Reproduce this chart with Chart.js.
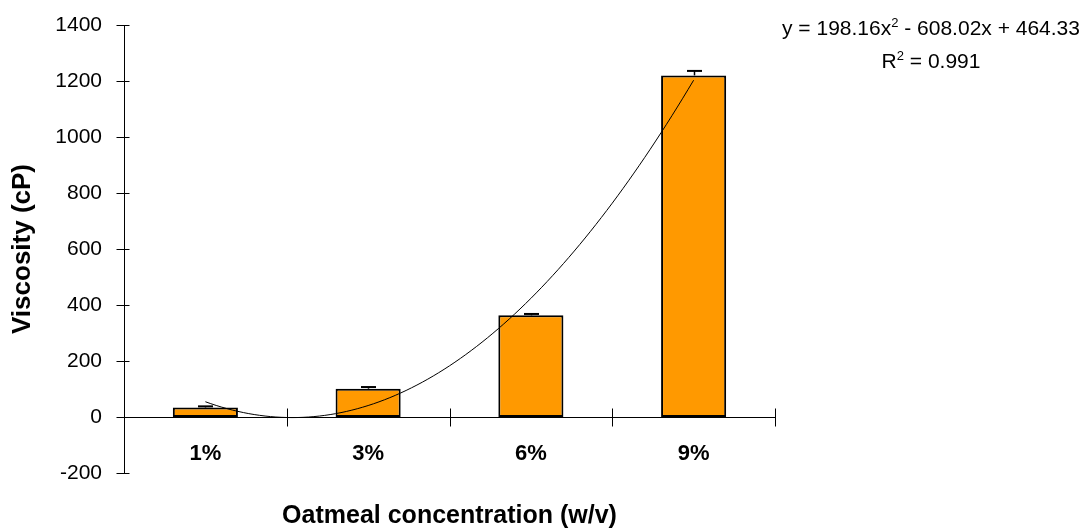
<!DOCTYPE html>
<html>
<head>
<meta charset="utf-8">
<script src="https://cdn.jsdelivr.net/npm/chart.js@4.4.1/dist/chart.umd.min.js"></script>
<style>
  html, body { margin: 0; padding: 0; background: #ffffff; }
  #wrap { width: 1084px; height: 528px; position: relative; }
</style>
</head>
<body>
<div id="wrap"><canvas id="chart" width="1084" height="528"></canvas></div>
<script>
// Viscosity of oatmeal suspensions by concentration
const categories = ['1%', '3%', '6%', '9%'];
const viscosity = [34, 101, 363, 1220];
const viscosityError = [4, 6, 5, 16];
const yTickValues = [-200, 0, 200, 400, 600, 800, 1000, 1200, 1400];
// second-order polynomial trend: y = a*x^2 + b*x + c, x = category position 1..4
const trendCoefficients = [198.16, -608.02, 464.33];
const trendRSquared = 0.991;

const FONT = '"Liberation Sans", Arial, Helvetica, sans-serif';

// sample the fitted polynomial between the first and last category
const trendPoints = [];
const trendSteps = 90;
for (let i = 0; i <= trendSteps; i++) {
  const x = 1 + i * (categories.length - 1) / trendSteps;
  const [a, b, c] = trendCoefficients;
  trendPoints.push({ x: x, y: a * x * x + b * x + c });
}

// short tick marks that cross both axes
const crossTicks = {
  id: 'crossTicks',
  afterDraw(chart) {
    const { ctx, scales } = chart;
    const xs = scales.x, ys = scales.y;
    const axisX = Math.round(chart.chartArea.left) + 0.5;
    const zeroY = Math.round(ys.getPixelForValue(0)) + 0.5;
    ctx.save();
    ctx.strokeStyle = '#000';
    ctx.lineWidth = 1;
    ctx.beginPath();
    ys.ticks.forEach(t => {
      const py = Math.round(ys.getPixelForValue(t.value)) + 0.5;
      ctx.moveTo(axisX - 8, py);
      ctx.lineTo(axisX + 5, py);
    });
    for (let i = 1; i <= categories.length; i++) {
      const px = Math.round(xs.getPixelForValue(i - 0.5)) + 0.5;
      ctx.moveTo(px, zeroY - 9);
      ctx.lineTo(px, zeroY + 9);
    }
    ctx.stroke();
    ctx.restore();
  }
};

// upper error bars on each column
const errorBars = {
  id: 'errorBars',
  afterDatasetsDraw(chart) {
    const { ctx } = chart;
    const ys = chart.scales.y;
    const meta = chart.getDatasetMeta(0);
    ctx.save();
    ctx.strokeStyle = '#000';
    meta.data.forEach((bar, i) => {
      const cx = Math.round(bar.x) + 0.5;
      const base = ys.getPixelForValue(viscosity[i]);
      const top = ys.getPixelForValue(viscosity[i] + viscosityError[i]);
      ctx.lineWidth = 1.5;
      ctx.beginPath();
      ctx.moveTo(cx, base);
      ctx.lineTo(cx, top);
      ctx.stroke();
      ctx.lineWidth = 2;
      ctx.beginPath();
      ctx.moveTo(cx - 7.5, top);
      ctx.lineTo(cx + 7.5, top);
      ctx.stroke();
    });
    ctx.restore();
  }
};

// trend equation and R² in the upper right corner
const trendLabel = {
  id: 'trendLabel',
  afterDraw(chart) {
    const { ctx } = chart;
    const [a, b, c] = trendCoefficients;
    const sign = v => (v < 0 ? ' - ' : ' + ');
    const mag = v => Math.abs(v).toFixed(2);
    const lines = [
      { baseline: 35, parts: [['y = ' + a.toFixed(2) + 'x', false], ['2', true], [sign(b) + mag(b) + 'x' + sign(c) + mag(c), false]] },
      { baseline: 68, parts: [['R', false], ['2', true], [' = ' + trendRSquared.toFixed(3), false]] }
    ];
    const centerX = 931;
    const mainFont = '21px ' + FONT;
    const supFont = '13px ' + FONT;
    ctx.save();
    ctx.fillStyle = '#000';
    ctx.textBaseline = 'alphabetic';
    ctx.textAlign = 'left';
    lines.forEach(line => {
      let total = 0;
      line.parts.forEach(([txt, sup]) => { ctx.font = sup ? supFont : mainFont; total += ctx.measureText(txt).width; });
      let x = centerX - total / 2;
      line.parts.forEach(([txt, sup]) => {
        ctx.font = sup ? supFont : mainFont;
        ctx.fillText(txt, x, line.baseline - (sup ? 8 : 0));
        x += ctx.measureText(txt).width;
      });
    });
    ctx.restore();
  }
};

new Chart(document.getElementById('chart'), {
  type: 'bar',
  data: {
    labels: categories,
    datasets: [
      {
        type: 'bar',
        label: 'Viscosity (cP)',
        data: viscosity,
        backgroundColor: '#FF9900',
        borderColor: '#000000',
        borderWidth: 2,
        borderSkipped: false,
        grouped: false,
        barPercentage: 0.4,
        categoryPercentage: 1.0,
        order: 2
      },
      {
        type: 'line',
        label: 'Poly. trend',
        data: trendPoints,
        xAxisID: 'xTrend',
        yAxisID: 'y',
        borderColor: '#000000',
        borderWidth: 1,
        pointRadius: 0,
        fill: false,
        tension: 0,
        order: 1
      }
    ]
  },
  options: {
    responsive: false,
    animation: false,
    events: [],
    layout: { padding: { top: 25, right: 309, bottom: 55, left: 0 } },
    plugins: {
      legend: { display: false },
      tooltip: { enabled: false }
    },
    scales: {
      x: {
        type: 'category',
        position: { y: 0 },
        offset: true,
        grid: { display: false, drawTicks: false },
        border: { display: true, color: '#000000', width: 1 },
        ticks: {
          color: '#000000',
          padding: 24,
          maxRotation: 0,
          font: { family: FONT, size: 22, weight: 'bold' }
        },
        title: {
          display: true,
          text: 'Oatmeal concentration (w/v)',
          color: '#000000',
          padding: { top: 10, bottom: 0 },
          font: { family: FONT, size: 25, weight: 'bold' }
        }
      },
      xTrend: {
        type: 'linear',
        display: false,
        offset: false,
        grid: { offset: false },
        min: 0.5,
        max: categories.length + 0.5
      },
      y: {
        type: 'linear',
        position: 'left',
        min: yTickValues[0],
        max: yTickValues[yTickValues.length - 1],
        // tick marks are drawn by the crossTicks plugin; the tick length only spaces the labels
        grid: { display: false, drawTicks: true, tickLength: 22 },
        border: { display: true, color: '#000000', width: 1 },
        ticks: {
          stepSize: yTickValues[1] - yTickValues[0],
          color: '#000000',
          padding: 0,
          font: { family: FONT, size: 21 },
          callback: v => String(v)
        },
        title: {
          display: true,
          text: 'Viscosity (cP)',
          color: '#000000',
          padding: { top: 7, bottom: 0 },
          font: { family: FONT, size: 26, weight: 'bold' }
        },
        afterFit(scale) { scale.width = 124; }
      }
    }
  },
  plugins: [errorBars, crossTicks, trendLabel]
});
</script>
</body>
</html>
